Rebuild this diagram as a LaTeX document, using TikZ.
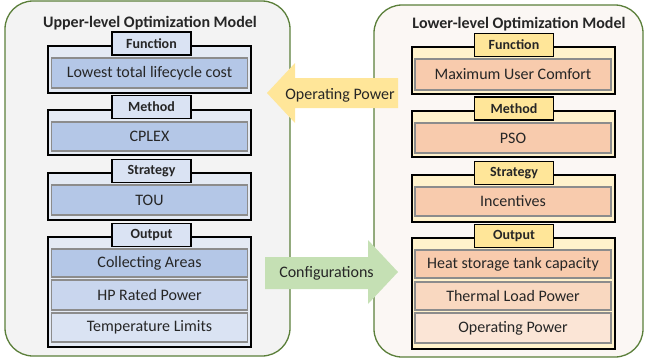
\documentclass[tikz,border=0pt]{standalone}
\usepackage{fontspec}
\setmainfont{Carlito}

\definecolor{panelgreen}{HTML}{5B7F3A}
\definecolor{upfill}{HTML}{F3F3F3}
\definecolor{lowfill}{HTML}{FBF7F4}
\definecolor{bluetab}{HTML}{DAE3F3}
\definecolor{blueframe}{HTML}{E4EAF4}
\definecolor{bluecell}{HTML}{B4C7E7}
\definecolor{bluemid}{HTML}{C9D6EE}
\definecolor{bluelight}{HTML}{DAE3F3}
\definecolor{yellowtab}{HTML}{FFE699}
\definecolor{yellowframe}{HTML}{FFF2CC}
\definecolor{peachcell}{HTML}{F8CBAD}
\definecolor{peachmid}{HTML}{F9D8C0}
\definecolor{peachlight}{HTML}{FBE5D6}
\definecolor{arrowyellow}{HTML}{FFE699}
\definecolor{arrowgreen}{HTML}{C5E0B4}
\definecolor{cellborder}{HTML}{8C8C8C}
\definecolor{textdark}{HTML}{262626}

\begin{document}
\begin{tikzpicture}[x=1pt, y=-1pt,
	every node/.style={text=textdark, inner sep=0pt, outer sep=0pt},
	panel/.style={draw=panelgreen, line width=1.3pt, rounded corners=28pt},
	title/.style={font=\fontsize{16}{16}\selectfont\bfseries},
	frame/.style={draw=black, line width=2pt, minimum width=203pt},
	tab/.style={draw=black, line width=1.8pt, minimum width=79pt, minimum height=23pt, font=\fontsize{14}{14}\selectfont\bfseries},
	cell/.style={draw=cellborder, line width=1.6pt, minimum width=196pt, font=\fontsize{16}{16}\selectfont},
	flow/.style={font=\fontsize{16}{16}\selectfont}]
	\useasboundingbox (0,0) rectangle (646,360);

	% the two models
	\node[panel, fill=upfill, minimum width=285pt, minimum height=355pt] (upper) at (147.5,178.5) {};
	\node[panel, fill=lowfill, minimum width=269pt, minimum height=352pt] (lower) at (508.5,181) {};
	\node[title] (uppertitle) at (150,23) {Upper-level Optimization Model};
	\node[title] (lowertitle) at (519,24) {Lower-level Optimization Model};

	% upper level
	\node[frame, fill=blueframe, minimum height=47pt] (ufunc) at (149.5,69.5) {};
	\node[frame, fill=blueframe, minimum height=45pt] (umeth) at (149.5,132.5) {};
	\node[frame, fill=blueframe, minimum height=47pt] (ustrat) at (149.5,196.5) {};
	\node[frame, fill=blueframe, minimum height=110pt] (uout) at (149.5,292) {};
	\node[cell, fill=bluecell, minimum height=30pt] (ufunc-c) at (149.5,73) {Lowest total lifecycle cost};
	\node[cell, fill=bluecell, minimum height=29pt] (umeth-c) at (149.5,136.5) {CPLEX};
	\node[cell, fill=bluecell, minimum height=30pt] (ustrat-c) at (149.5,200) {TOU};
	\node[cell, fill=bluecell, minimum height=28pt] (uout-1) at (149.5,263) {Collecting Areas};
	\node[cell, fill=bluemid, minimum height=30pt] (uout-2) at (149.5,295) {HP Rated Power};
	\node[cell, fill=bluelight, minimum height=29pt] (uout-3) at (149.5,327.5) {Temperature Limits};
	\node[tab, fill=bluetab] (ufunc-t) at (151.5,43.5) {Function};
	\node[tab, fill=bluetab] (umeth-t) at (151.5,107) {Method};
	\node[tab, fill=bluetab] (ustrat-t) at (151.5,171) {Strategy};
	\node[tab, fill=bluetab] (uout-t) at (151.5,235) {Output};

	% lower level
	\node[frame, fill=yellowframe, minimum height=47pt] (lfunc) at (513,70.5) {};
	\node[frame, fill=yellowframe, minimum height=46pt] (lmeth) at (513,134) {};
	\node[frame, fill=yellowframe, minimum height=47pt] (lstrat) at (513,198.5) {};
	\node[frame, fill=yellowframe, minimum height=111pt] (lout) at (513,293.5) {};
	\node[cell, fill=peachcell, minimum height=31pt] (lfunc-c) at (513,74.5) {Maximum User Comfort};
	\node[cell, fill=peachcell, minimum height=30pt] (lmeth-c) at (513,138) {PSO};
	\node[cell, fill=peachcell, minimum height=29pt] (lstrat-c) at (513,201.5) {Incentives};
	\node[cell, fill=peachcell, minimum height=28pt] (lout-1) at (513,264) {Heat storage tank capacity};
	\node[cell, fill=peachmid, minimum height=28pt] (lout-2) at (513,296) {Thermal Load Power};
	\node[cell, fill=peachlight, minimum height=30pt] (lout-3) at (513,328) {Operating Power};
	\node[tab, fill=yellowtab] (lfunc-t) at (514,45) {Function};
	\node[tab, fill=yellowtab] (lmeth-t) at (514,108.5) {Method};
	\node[tab, fill=yellowtab] (lstrat-t) at (514,173) {Strategy};
	\node[tab, fill=yellowtab] (lout-t) at (514,236) {Output};

	% exchange between the levels
	\fill[arrowyellow] (267,93) -- (295,63) -- (295,78) -- (398,78) -- (398,108) -- (295,108) -- (295,123) -- cycle;
	\fill[arrowgreen] (398,272) -- (368,240) -- (368,257) -- (265,257) -- (265,289) -- (368,289) -- (368,304) -- cycle;
	\node[flow] (power) at (340,95) {Operating Power};
	\node[flow] (config) at (326.5,273) {Configurations};
\end{tikzpicture}
\end{document}
